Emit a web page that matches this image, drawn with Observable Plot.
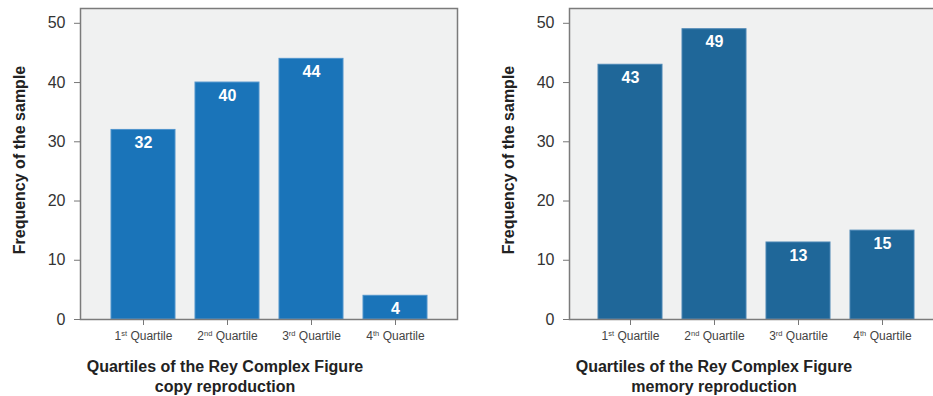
<!DOCTYPE html>
<html>
<head>
<meta charset="utf-8">
<script src="https://cdn.jsdelivr.net/npm/d3@7"></script>
<script src="https://cdn.jsdelivr.net/npm/@observablehq/plot@0.6"></script>
<style>
  html, body { margin: 0; padding: 0; background: #ffffff; }
  #charts { display: flex; width: 933px; height: 396px; overflow: hidden; }
  #charts > svg { flex-shrink: 0; display: block; }
</style>
</head>
<body>
<div id="charts"></div>
<script>
// Quartile groups of the Rey Complex Figure scores
const categories = ["1st Quartile", "2nd Quartile", "3rd Quartile", "4th Quartile"];
// Number of participants per quartile
const copyCounts = [32, 40, 44, 4];
const memoryCounts = [43, 49, 13, 15];
const yTicks = [0, 10, 20, 30, 40, 50];
const yTitle = "Frequency of the sample";
const copyTitle = "Quartiles of the Rey Complex Figure\ncopy reproduction";
const memoryTitle = "Quartiles of the Rey Complex Figure\nmemory reproduction";

const FONT = "'Liberation Sans', Arial, Helvetica, sans-serif";

// Turn the ordinal suffix of "1st Quartile" etc. into a raised, smaller tspan
function raiseOrdinals(svg) {
  d3.select(svg).selectAll('g[aria-label="x-axis tick label"] text').each(function () {
    const label = this.textContent;
    const m = /^(\d+)(st|nd|rd|th)(.*)$/.exec(label);
    if (!m) return;
    const t = d3.select(this);
    t.text(null);
    t.append("tspan").text(m[1]);
    t.append("tspan").attr("dy", -4.5).attr("font-size", 7.5).text(m[2]);
    t.append("tspan").attr("dy", 4.5).text(m[3]);
  });
}

function panel({counts, fill, edge, title, width, marginLeft, marginRight, shift}) {
  const data = categories.map((quartile, i) => ({quartile, count: counts[i]}));
  const chart = Plot.plot({
    width,
    height: 396,
    marginTop: 8,
    marginBottom: 77,
    marginLeft,
    marginRight,
    style: {fontFamily: FONT, background: "white", overflow: "visible"},
    x: {domain: categories, paddingInner: 0.244, paddingOuter: 0.366, insetLeft: -shift, insetRight: shift},
    y: {domain: [0, 52.5]},
    marks: [
      Plot.frame({fill: "#f0f1f1"}),
      Plot.barY(data, {x: "quartile", y: "count", fill, stroke: edge, strokeWidth: 1}),
      Plot.text(data, {
        x: "quartile", y: "count", text: "count", dy: 13, lineAnchor: "middle",
        fill: "white", fontWeight: "bold", fontSize: 16
      }),
      Plot.frame({stroke: "#7b7b7b", strokeWidth: 1.5}),
      Plot.axisY({
        ticks: yTicks, tickSize: 6, tickPadding: 9, fontSize: 16,
        color: "#333", stroke: "#777", label: null
      }),
      Plot.axisX({
        tickSize: 6, tickPadding: 6, fontSize: 12,
        color: "#444", stroke: "#777", label: null
      }),
      Plot.text([yTitle], {
        frameAnchor: "left", textAnchor: "middle", rotate: -90, dx: -61, dy: -4,
        fontWeight: "bold", fontSize: 16, fill: "#222"
      }),
      Plot.text([title], {
        frameAnchor: "bottom", textAnchor: "middle", dx: -44, dy: 56, lineAnchor: "middle", lineHeight: 1.22,
        fontWeight: "bold", fontSize: 16, fill: "#222"
      })
    ]
  });
  raiseOrdinals(chart);
  return chart;
}

const host = document.getElementById("charts");
host.append(panel({
  counts: copyCounts, fill: "#1a74b9", edge: "#4f94cc", title: copyTitle,
  width: 470, marginLeft: 80, marginRight: 13, shift: 0
}));
host.append(panel({
  counts: memoryCounts, fill: "#1f6799", edge: "#4a86b4", title: memoryTitle,
  width: 476, marginLeft: 99, marginRight: 0, shift: 2
}));
</script>
</body>
</html>
